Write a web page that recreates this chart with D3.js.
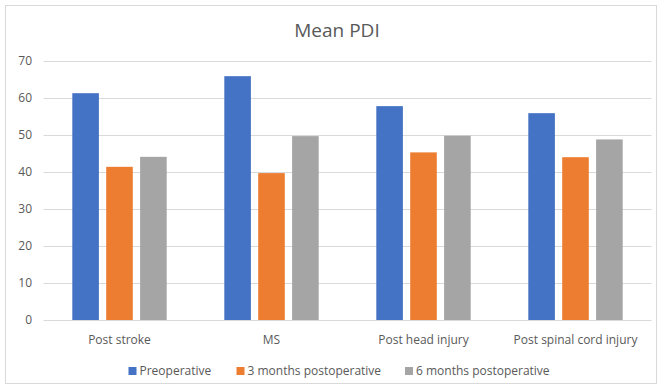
<!DOCTYPE html>
<html><head><meta charset="utf-8">
<script src="https://cdn.jsdelivr.net/npm/d3@7"></script>
<style>body{margin:0;background:#fff}svg{display:block}text{font-family:"Open Sans",sans-serif;fill:#595959}</style>
</head><body><svg id="c" width="662" height="389"></svg>
<script>
const categories = ["Post stroke", "MS", "Post head injury", "Post spinal cord injury"];
const seriesNames = ["Preoperative", "3 months postoperative", "6 months postoperative"];
const preoperative = [61.3, 65.9, 57.8, 55.9];
const months3 = [41.4, 39.7, 45.3, 44.0];
const months6 = [44.1, 49.7, 49.8, 48.8];
const colors = ["#4472C4", "#ED7D31", "#A5A5A5"];
const yTicks = [0, 10, 20, 30, 40, 50, 60, 70];
const title = "Mean PDI";

(function () {
const seriesValues = [preoperative, months3, months6];
const svg = d3.select("#c");
const pl = 43.5, pr = 651.5, pt = 61, pb = 320;

svg.append("rect").attr("x", 5.5).attr("y", 5.5).attr("width", 651).attr("height", 378)
  .attr("fill", "#fff").attr("stroke", "#d9d9d9").attr("stroke-width", 1);

const y = d3.scaleLinear().domain([0, 70]).range([pb, pt]);
const x0 = d3.scaleBand().domain(categories).range([pl, pr]).paddingInner(0).paddingOuter(0);
const groupW = x0.bandwidth() * 0.621;
const x1 = d3.scaleBand().domain(d3.range(3)).range([0, groupW]).paddingInner(0.216).paddingOuter(0);

svg.append("g").selectAll("line").data(yTicks).join("line")
  .attr("x1", pl).attr("x2", pr)
  .attr("y1", d => Math.round(y(d)) + 0.5).attr("y2", d => Math.round(y(d)) + 0.5)
  .attr("stroke", "#d9d9d9").attr("stroke-width", 1);

const yAxis = d3.axisLeft(y).tickValues(yTicks).tickSize(0).tickPadding(0);
const ya = svg.append("g").attr("transform", `translate(32,0)`).call(yAxis);
ya.select(".domain").remove();
ya.attr("font-family", null).attr("font-size", null);
ya.selectAll("text").style("font-size", "12px").style("fill", "#595959");

const groups = svg.append("g").selectAll("g").data(categories).join("g")
  .attr("transform", d => `translate(${x0(d) + (x0.bandwidth() - groupW) / 2},0)`);
groups.selectAll("rect").data((d, i) => seriesValues.map((s, j) => ({ j, v: s[i] })))
  .join("rect")
  .attr("x", d => x1(d.j)).attr("width", x1.bandwidth())
  .attr("y", d => y(d.v)).attr("height", d => y(0) - y(d.v))
  .attr("fill", d => colors[d.j]);

const xAxis = d3.axisBottom(x0).tickSize(0).tickPadding(0);
const xa = svg.append("g").attr("transform", `translate(0,${pb})`).call(xAxis);
xa.select(".domain").remove();
xa.attr("font-family", null).attr("font-size", null);
xa.selectAll("text").attr("dy", null).attr("y", 24).style("font-size", "12px").style("fill", "#595959");

svg.append("text").attr("x", 337).attr("y", 36.5).attr("text-anchor", "middle")
  .style("font-size", "19px").text(title);

const legX = [128.5, 236.5, 405];
const leg = svg.append("g").selectAll("g").data(seriesNames).join("g")
  .attr("transform", (d, i) => `translate(${legX[i]},371)`);
leg.append("rect").attr("x", 0).attr("y", -4).attr("width", 8).attr("height", 8).attr("fill", (d, i) => colors[i]);
leg.append("text").attr("x", 11).attr("y", 4).style("font-size", "12px").text(d => d);
})();
</script></body></html>
